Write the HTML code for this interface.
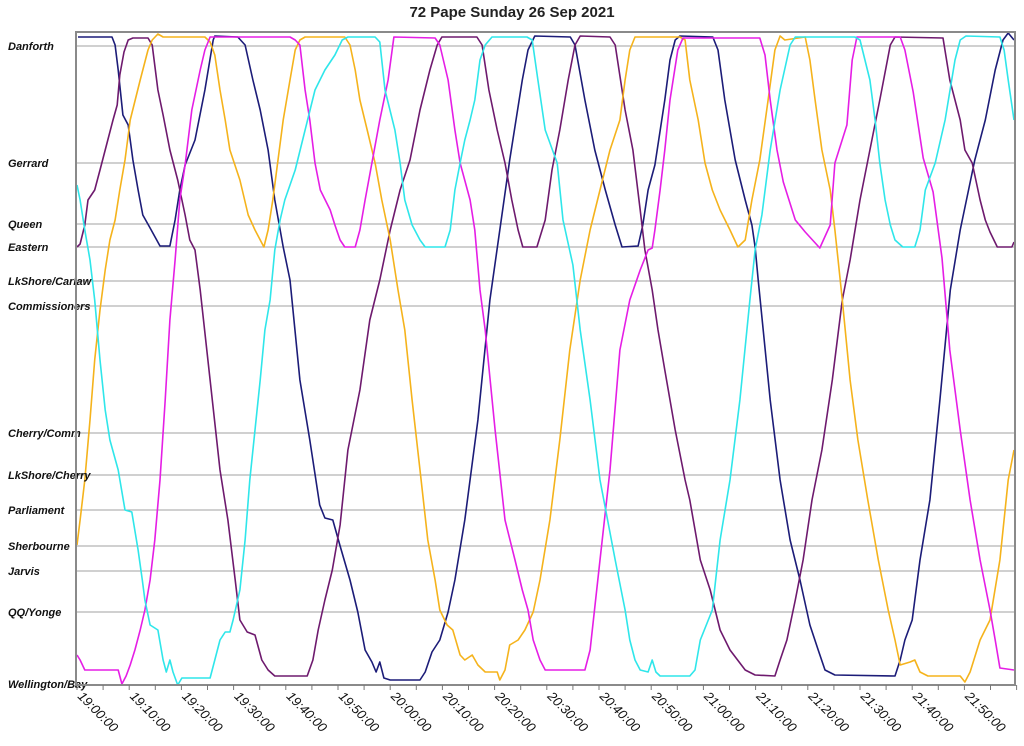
<!DOCTYPE html>
<html><head><meta charset="utf-8">
<style>
html,body{margin:0;padding:0;background:#fff;}
svg{display:block;font-family:"Liberation Sans",sans-serif;}
</style></head>
<body>
<svg id="chart" width="1024" height="746" viewBox="0 0 1024 746">
<text x="512" y="17" text-anchor="middle" font-size="15" font-weight="bold" fill="#222">72 Pape Sunday 26 Sep 2021</text>
<g id="grid"></g><g id="series"></g><g id="axes"></g>
</svg>
<script>
const stopNames=["Danforth","Gerrard","Queen","Eastern","LkShore/Carlaw","Commissioners","Cherry/Comm","LkShore/Cherry","Parliament","Sherbourne","Jarvis","QQ/Yonge","Wellington/Bay"];
const stopPos=[0,117,178,201,235,260,387,429,464,500,525,566,638];
const tickLabels=["19:00:00","19:10:00","19:20:00","19:30:00","19:40:00","19:50:00","20:00:00","20:10:00","20:20:00","20:30:00","20:40:00","20:50:00","21:00:00","21:10:00","21:20:00","21:30:00","21:40:00","21:50:00"];
const seriesColors=["#1c1c78","#6e1a6e","#f5b31c","#e51ee5","#2fe6ea"];
const navyT=[0.2,6.7,7.3,7.9,8.8,9.8,10.7,11.7,12.6,14.0,15.9,17.8,18.8,19.7,20.7,22.6,24.5,26.1,26.4,30.8,32.2,33.7,35.1,36.6,37.9,39.5,40.8,42.7,44.6,46.5,47.5,49.0,50.4,52.3,53.8,55.2,56.5,57.3,58.0,58.8,60.0,65.7,66.7,68.0,69.5,71.1,72.4,74.3,76.8,79.1,81.0,82.9,85.3,86.4,87.7,94.5,95.4,97.3,99.2,101.2,103.1,104.4,107.5,108.4,109.4,110.7,112.6,113.6,114.6,115.5,121.8,122.8,124.1,126.1,128.0,129.3,129.9,130.5,132.8,134.7,136.6,138.5,140.4,142.0,143.3,145.2,156.7,157.7,158.6,160.0,161.5,163.4,165.3,167.3,169.2,172.0,174.0,175.9,177.4,178.4,179.5];
const navyP=[-9,-9,-1,24,69,79,114,144,169,182,200,200,174,144,119,94,44,-6,-10,-9,-1,34,64,104,154,201,234,334,394,459,472,474,500,534,566,604,616,626,616,632,634,634,626,606,594,566,534,474,374,254,184,114,34,4,-10,-9,-1,54,104,144,179,201,200,179,144,119,54,14,-6,-10,-9,4,54,114,154,179,201,234,354,434,494,534,579,604,624,629,630,614,594,574,514,454,354,244,184,114,74,24,-6,-13,-6];
const purpleT=[0,0.6,1.5,2.1,3.4,4.4,5.9,6.9,7.7,8.2,9.0,9.8,10.7,13.6,14.4,15.5,16.5,17.8,19.3,20.7,21.6,22.6,23.6,25.5,27.4,28.9,30.3,31.2,32.6,34.1,35.4,36.6,37.9,44.1,45.2,46.2,47.5,48.9,50.4,51.9,54.2,56.1,58.0,60.0,61.9,63.8,65.7,67.6,69.0,69.9,76.6,77.6,78.9,80.5,82.0,83.3,84.5,85.4,88.1,89.7,91.0,92.5,94.1,95.4,96.4,102.1,103.1,105.0,106.5,107.9,108.8,110.2,111.3,112.6,114.6,116.5,117.4,119.4,121.3,123.2,125.1,128.0,129.9,133.7,134.7,136.0,137.6,139.1,140.8,142.7,144.7,146.6,148.1,150.0,151.9,153.8,155.8,156.7,165.9,167.2,169.2,170.1,171.5,173.0,174.0,174.9,176.3,179.1,179.5];
const purpleP=[201,198,179,154,144,124,94,74,59,29,6,-6,-8,-8,-1,44,69,104,134,169,194,204,244,334,424,474,534,574,586,589,614,624,630,630,614,584,554,524,479,404,344,274,234,184,144,114,64,24,-1,-9,-9,-1,44,84,117,154,184,201,201,174,124,84,34,-1,-10,-9,-1,64,104,164,204,244,284,324,384,434,454,514,544,584,604,624,629,630,614,594,554,514,454,404,334,254,214,154,104,54,-1,-9,-8,34,74,104,117,154,174,186,201,201,196];
const orangeT=[0,0.6,1.5,2.5,3.4,4.4,5.4,6.3,7.3,8.2,9.2,10.2,12.1,13.6,14.4,15.5,16.5,24.5,25.5,26.4,27.4,28.4,29.3,31.2,32.8,34.1,35.8,36.6,37.5,38.5,39.5,40.8,41.8,42.7,43.7,51.3,52.3,53.3,54.2,55.6,57.1,58.4,60.0,61.5,62.8,64.2,65.7,67.2,68.6,69.5,70.9,72.0,73.4,74.3,75.7,76.8,78.2,80.5,81.0,82.0,82.9,84.5,85.8,87.4,88.7,90.6,92.5,94.4,96.4,98.3,100.2,102.1,104.0,105.0,105.9,106.9,115.5,116.5,117.4,119.0,120.3,121.7,123.2,125.1,126.6,128.0,129.3,130.8,132.4,133.7,134.7,135.6,139.5,140.4,141.4,142.7,144.3,145.2,145.8,146.6,148.1,149.6,151.5,153.5,155.4,156.7,157.7,159.6,160.5,161.5,163.0,169.2,170.1,171.1,173.0,174.9,176.8,178.4,179.5];
const orangeP=[499,474,434,374,314,264,224,194,174,144,114,74,34,4,-6,-12,-9,-9,-4,9,44,74,104,134,169,184,201,184,154,114,74,34,4,-6,-9,-9,-1,24,54,84,117,154,194,244,284,354,424,494,534,564,579,584,609,614,609,619,626,626,634,624,599,594,584,566,534,474,394,304,234,184,144,104,74,34,4,-9,-9,-6,34,74,117,144,164,184,201,194,154,114,54,4,-10,-6,-9,14,54,104,144,184,214,254,334,394,454,514,564,594,619,616,614,626,630,630,636,626,594,574,514,434,404];
const magentaT=[0,0.6,1.5,7.9,8.6,9.4,10.2,11.1,12.1,13.0,14.0,14.9,15.9,16.9,17.8,18.8,19.7,20.7,22.0,23.6,24.5,25.5,40.8,41.8,42.7,43.7,44.6,45.6,46.6,48.5,49.4,50.4,51.3,53.3,54.2,55.2,56.5,58.0,59.6,60.7,68.6,69.5,71.1,72.4,73.4,75.3,76.2,77.2,78.2,80.1,82.0,83.9,85.3,86.4,87.4,88.7,89.7,97.3,98.3,100.2,102.1,104.0,105.9,107.9,109.4,110.2,110.7,111.7,112.6,113.6,115.1,116.1,130.8,131.8,132.8,134.1,135.3,137.6,139.5,142.3,144.3,145.2,147.5,148.5,149.4,157.7,158.6,160.2,162.1,164.0,165.7,167.2,169.2,171.1,173.0,174.9,175.9,176.8,179.5];
const magentaP=[609,614,624,624,638,630,619,604,584,564,534,494,434,354,274,214,154,119,64,24,4,-9,-9,-6,-1,44,74,117,144,164,179,194,201,201,184,154,117,74,34,-9,-8,-1,34,84,117,154,184,244,284,384,474,514,544,564,594,614,624,624,604,514,424,304,254,224,204,202,184,144,104,54,4,-8,-8,9,54,104,136,174,186,202,179,117,79,14,-9,-9,4,46,112,146,212,304,384,454,514,564,594,622,624];
const cyanT=[0,0.6,1.5,2.5,3.4,4.4,5.4,6.3,7.9,9.2,10.5,11.7,12.5,13.0,14.0,15.5,16.5,17.1,17.8,18.4,19.3,20.1,25.5,26.4,27.4,28.4,29.3,29.9,31.2,32.2,33.1,34.1,35.1,36.0,37.0,37.9,38.9,39.8,41.8,43.7,45.6,47.5,49.4,50.8,51.9,57.1,58.0,59.0,60.9,61.9,62.8,64.2,65.7,66.7,70.5,71.5,72.4,73.4,74.3,75.3,76.2,77.2,78.2,79.5,86.2,87.2,88.3,89.7,92.0,93.1,95.0,96.4,98.3,100.2,103.1,105.0,105.9,106.9,107.9,109.4,110.2,110.9,111.7,117.4,118.4,119.4,121.7,123.2,125.1,127.0,128.9,129.9,131.2,132.8,134.7,136.6,137.6,149.0,150.0,151.9,152.9,153.8,154.8,155.8,156.7,158.2,160.5,161.5,162.5,164.4,166.3,168.2,169.2,170.3,176.8,177.6,178.4,179.5];
const cyanP=[139,154,184,214,254,314,364,394,424,464,466,504,534,554,579,584,614,626,614,626,639,632,632,614,594,586,586,574,544,494,434,384,334,284,254,204,174,154,124,84,44,24,9,-6,-9,-9,-4,44,84,117,154,179,194,201,201,184,144,117,94,74,54,14,-1,-9,-9,-6,34,84,117,174,219,284,354,434,514,564,594,614,624,626,614,626,630,630,624,594,564,494,434,354,254,204,169,104,44,-1,-9,-9,-6,34,74,117,154,179,194,201,201,184,144,117,74,14,-6,-10,-9,4,34,74];

const NS="http://www.w3.org/2000/svg";
const L=76,R=1015,T=32,B=685;
const xS=t=>77+t*5.22;
const yS=p=>46+p;
function mk(tag,attrs,parent){const e=document.createElementNS(NS,tag);for(const k in attrs)e.setAttribute(k,attrs[k]);parent.appendChild(e);return e;}
const grid=document.getElementById('grid'),axes=document.getElementById('axes'),ser=document.getElementById('series');
stopNames.forEach((n,i)=>{
  const y=yS(stopPos[i]);
  if(i<stopNames.length-1){const ln=mk('line',{x1:L,x2:R,y1:y,y2:y,stroke:'#a0a0a0','stroke-width':1},grid);
  
  }
  const tx=mk('text',{x:8,y:y+4,'font-size':11,'font-weight':'bold','font-style':'italic',fill:'#111'},axes);
  tx.textContent=n;
  
  
});
const defs=mk('clipPath',{id:'clip'},ser);mk('rect',{x:L,y:T,width:R-L,height:B-T+4},defs);
const allT=[navyT,purpleT,orangeT,magentaT,cyanT],allP=[navyP,purpleP,orangeP,magentaP,cyanP],names=['navy','purple','orange','magenta','cyan'];
allT.forEach((ts,s)=>{
  const d=ts.map((t,i)=>(i?'L':'M')+xS(t).toFixed(1)+' '+yS(allP[s][i]).toFixed(1)).join(' ');
  const p=mk('path',{d:d,fill:'none',stroke:seriesColors[s],'stroke-width':1.6,'stroke-linejoin':'round','clip-path':'url(#clip)'},ser);
  
  
});
const fr=mk('rect',{x:L,y:T,width:R-L,height:B-T,fill:'none',stroke:'#8a8a8a','stroke-width':2},axes);


for(let m=0;m<=180;m+=5){const x=xS(m);mk('line',{x1:x,x2:x,y1:B,y2:B+5,stroke:'#777','stroke-width':1},axes);}
tickLabels.forEach((lb,i)=>{
  const x=xS(i*10),y=B+12;
  const tx=mk('text',{x:x,y:y,'font-size':13,'font-style':'italic',fill:'#111',transform:`rotate(45 ${x} ${y})`},axes);
  tx.textContent=lb;
  
  
});
</script>
</body></html>
